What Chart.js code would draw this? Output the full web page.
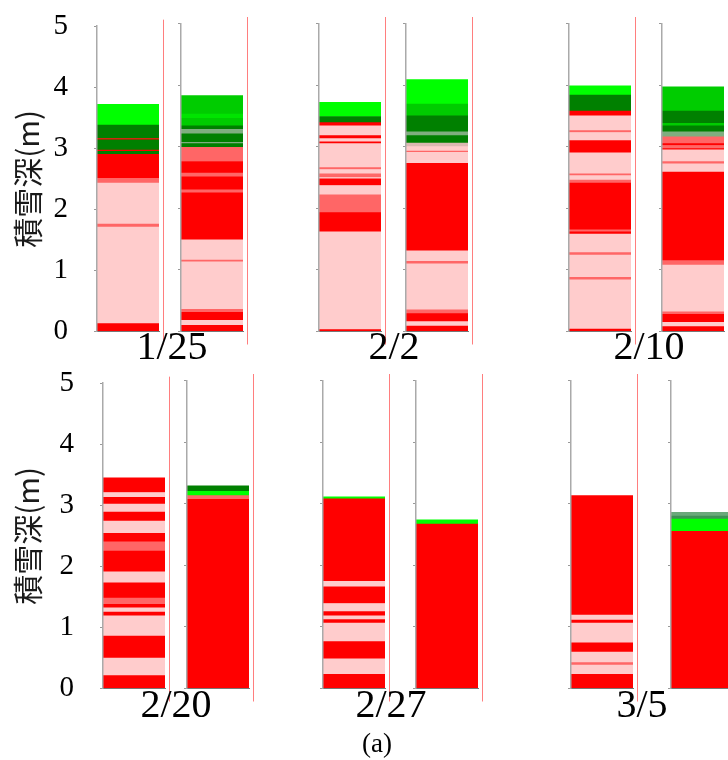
<!DOCTYPE html>
<html>
<head>
<meta charset="utf-8">
<script src="https://cdn.jsdelivr.net/npm/chart.js@4.4.1/dist/chart.umd.min.js"></script>
<style>
  body { margin: 0; background: #fff; }
  #wrap { position: relative; width: 728px; height: 760px; overflow: hidden; }
  #wrap canvas { position: absolute; }
  .lbl { position: absolute; font-family: "Liberation Serif", serif; color: #000;
         transform: translate(-50%, -50%); line-height: 1; white-space: nowrap; }
</style>
</head>
<body>
<div id="wrap"></div>
<script>
// observation dates, two profiles per date
const dates = ["1/25", "2/2", "2/10", "2/20", "2/27", "3/5"];
const depthTicks = [0, 1, 2, 3, 4, 5];

// layer tops in metres, listed from the ground up; one letter per layer gives its kind
const tops_0125a = [0.13, 1.71, 1.76, 2.43, 2.51, 2.90, 2.95, 2.97, 3.14, 3.16, 3.38, 3.72];
const kinds_0125a = "RPMPMRDRDRDG";
const tops_0125b = [0.10, 0.18, 0.31, 0.36, 1.13, 1.16, 1.49, 2.25, 2.30, 2.51, 2.57, 2.76, 2.99, 3.05, 3.07, 3.21, 3.28, 3.34, 3.46, 3.53, 3.83];
const kinds_0125b = "RPRMPMPRMRMRMDSDSDgLg";

const tops_0202a = [0.03, 1.62, 1.93, 2.22, 2.37, 2.48, 2.50, 2.56, 2.63, 2.66, 3.05, 3.08, 3.13, 3.18, 3.34, 3.39, 3.49, 3.72];
const kinds_0202a = "RPRMPRPMPMPRPRPRDG";
const tops_0202b = [0.09, 0.16, 0.29, 0.35, 1.10, 1.14, 1.31, 2.73, 2.91, 2.93, 3.00, 3.06, 3.18, 3.24, 3.50, 3.69, 4.09];
const kinds_0202b = "RPRMPMPRPMPQDSDgG";

const tops_0210a = [0.04, 0.84, 0.88, 1.24, 1.28, 1.58, 1.62, 1.65, 2.41, 2.46, 2.53, 2.56, 2.90, 3.10, 3.23, 3.26, 3.50, 3.58, 3.84, 3.99];
const kinds_0210a = "RPMPMPRMRMPMPRPMPRDG";
const tops_0210b = [0.08, 0.15, 0.28, 0.32, 1.08, 1.15, 2.59, 2.72, 2.76, 2.95, 2.97, 3.02, 3.05, 3.16, 3.24, 3.34, 3.38, 3.58, 3.97];
const kinds_0210b = "RPRMPMRPMPRMRMSDgDg";

const tops_0220a = [0.21, 0.50, 0.86, 1.19, 1.25, 1.32, 1.38, 1.48, 1.73, 1.91, 2.25, 2.40, 2.54, 2.74, 2.89, 3.02, 3.13, 3.21, 3.45];
const kinds_0220a = "RPRPRPRMRPRMRPRPRPR";
const tops_0220b = [3.07, 3.13, 3.20, 3.29];
const kinds_0220b = "RMGD";

const tops_0227a = [0.23, 0.48, 0.76, 1.06, 1.12, 1.18, 1.25, 1.38, 1.65, 1.74, 3.08, 3.11];
const kinds_0227a = "RPRPRPRPRPRG";
const tops_0227b = [2.67, 2.74];
const kinds_0227b = "RG";

const tops_0305a = [0.23, 0.38, 0.42, 0.59, 0.74, 1.06, 1.11, 1.19, 3.13];
const kinds_0305a = "RPMPRPRPR";
const tops_0305b = [2.55, 2.75, 2.80, 2.86];
const kinds_0305b = "RGTU";

const kindColor = {
  P: "#ffcccc", M: "#ff6666", R: "#ff0000",
  G: "#00ff00", L: "#00e400", g: "#00cc00", D: "#008000",
  S: "#7fae7f", Q: "#dcb8b2", T: "#3f8f55", U: "#6aa87a"
};

const profiles = [
  [tops_0125a, kinds_0125a], [tops_0125b, kinds_0125b],
  [tops_0202a, kinds_0202a], [tops_0202b, kinds_0202b],
  [tops_0210a, kinds_0210a], [tops_0210b, kinds_0210b],
  [tops_0220a, kinds_0220a], [tops_0220b, kinds_0220b],
  [tops_0227a, kinds_0227a], [tops_0227b, kinds_0227b],
  [tops_0305a, kinds_0305a], [tops_0305b, kinds_0305b]
];

// page layout
const rowTop = [0, 357];
const axisX = [[97, 181, 319, 406, 569, 662], [103, 187, 323, 416, 571, 671]];
const dateAt = [[172, 345.5], [394, 345.5], [649, 345.5], [176, 704], [391, 704], [642, 704]];
const BAR_W = 62, AXIS_W = 6, CANVAS_H = 360;

// thin red marker to the right of every profile
const edgeLine = {
  id: "edgeLine",
  afterDraw(chart) {
    const { ctx, chartArea } = chart;
    const x = Math.round(chartArea.right + 3.5) + 0.5;
    ctx.save();
    ctx.strokeStyle = "rgba(255,40,40,0.6)";
    ctx.lineWidth = 1;
    ctx.beginPath();
    ctx.moveTo(x, chartArea.top - 6.5);
    ctx.lineTo(x, chartArea.bottom + 13);
    ctx.stroke();
    ctx.restore();
  }
};

const wrap = document.getElementById("wrap");

profiles.forEach(([tops, kinds], i) => {
  const row = i < 6 ? 0 : 1;
  const col = i % 6;
  const first = col === 0;
  const ax = axisX[row][col];
  const left = first ? 0 : ax - AXIS_W;
  const scaleW = ax - left;

  const canvas = document.createElement("canvas");
  canvas.width = scaleW + BAR_W + 8;
  canvas.height = CANVAS_H;
  canvas.style.left = left + "px";
  canvas.style.top = rowTop[row] + "px";
  wrap.appendChild(canvas);

  const datasets = tops.map((top, k) => ({
    data: [[k === 0 ? 0 : tops[k - 1], top]],
    backgroundColor: kindColor[kinds[k]],
    borderWidth: 0,
    barPercentage: 1,
    categoryPercentage: 1
  }));

  new Chart(canvas, {
    type: "bar",
    data: { labels: [dates[Math.floor(i / 2)]], datasets },
    options: {
      responsive: false,
      animation: false,
      events: [],
      layout: { padding: { top: 23.5, bottom: 28.5, left: 0, right: 8 } },
      plugins: { legend: { display: false }, tooltip: { enabled: false } },
      scales: {
        x: {
          stacked: true,
          ticks: { display: false },
          grid: { display: false, drawTicks: false },
          border: { display: true, color: "#777", width: 1, z: 1 },
          afterFit: (s) => { s.height = 0; }
        },
        y: {
          min: depthTicks[0],
          max: depthTicks[depthTicks.length - 1],
          afterBuildTicks: (s) => { s.ticks = depthTicks.map((v) => ({ value: v })); },
          ticks: {
            display: first,
            padding: 26,
            color: "#000",
            // tiny line height keeps the labels from shrinking the plot area
            font: { family: "Liberation Serif", size: 29, lineHeight: 0.01 }
          },
          grid: { display: true, drawOnChartArea: false, drawTicks: true, tickLength: 3, color: "#999", lineWidth: 1 },
          border: { display: true, color: "#aaa", width: 1.5, z: 1 },
          title: {
            display: first,
            text: "積雪深(m)",
            color: "#1a1a1a",
            font: { family: "Noto Sans CJK JP", size: 30, lineHeight: 1.2 },
            padding: { top: 10, bottom: 0 }
          },
          afterFit: (s) => { s.width = scaleW; }
        }
      }
    },
    plugins: [edgeLine]
  });
});

dates.forEach((d, j) => {
  const el = document.createElement("div");
  el.className = "lbl";
  el.style.fontSize = "40px";
  el.style.left = dateAt[j][0] + "px";
  el.style.top = dateAt[j][1] + "px";
  el.textContent = d;
  wrap.appendChild(el);
});

const cap = document.createElement("div");
cap.className = "lbl";
cap.style.fontSize = "27px";
cap.style.left = "377px";
cap.style.top = "743px";
cap.textContent = "(a)";
wrap.appendChild(cap);
</script>
</body>
</html>
